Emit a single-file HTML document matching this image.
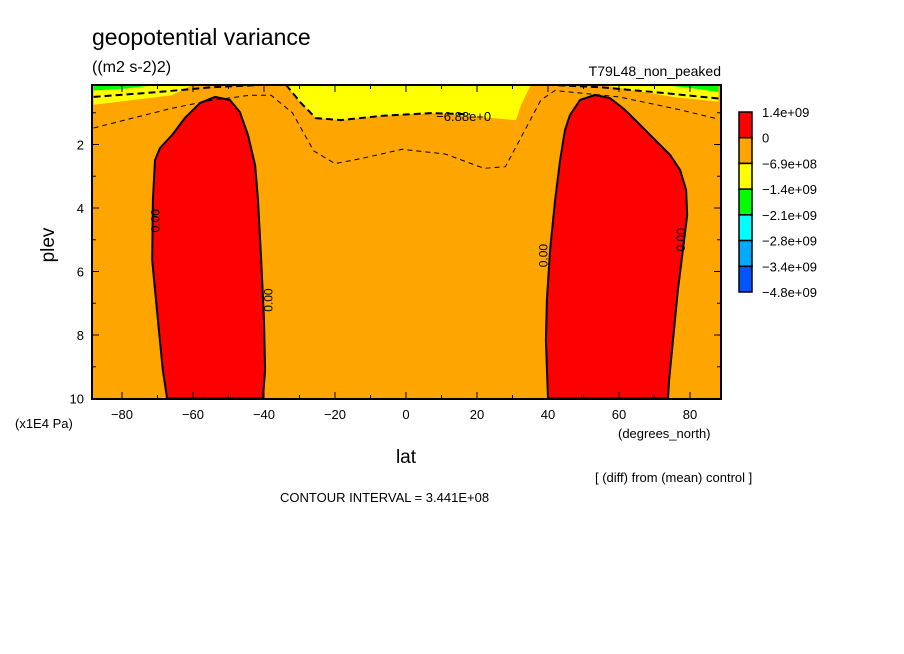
<!DOCTYPE html>
<html><head><meta charset="utf-8"><style>
body{margin:0;background:#fff;}
svg{display:block;font-family:"Liberation Sans",sans-serif;}
</style></head><body>
<svg id="chart" width="904" height="654" viewBox="0 0 904 654">
<g id="plot"></g>
<g id="axes"></g>
<g id="legend"></g>
<text x="92" y="45" font-size="23">geopotential variance</text>
<text x="92" y="72" font-size="16">((m2 s-2)2)</text>
<text x="721" y="76" font-size="14" text-anchor="end">T79L48_non_peaked</text>
<text x="406" y="463" font-size="19" text-anchor="middle">lat</text>
<text x="0" y="0" font-size="19" text-anchor="middle" transform="translate(54,245) rotate(-90)">plev</text>
<text x="15" y="428" font-size="13">(x1E4 Pa)</text>
<text x="618" y="438" font-size="13">(degrees_north)</text>
<text x="595" y="482" font-size="13">[ (diff) from (mean) control ]</text>
<text x="280" y="502" font-size="13">CONTOUR INTERVAL = 3.441E+08</text>
</svg>
<script>
const xTicks=[-80,-60,-40,-20,0,20,40,60,80];
const yTicks=[2,4,6,8,10];
const legendColors=["#ff0000","#ffa500","#ffff00","#00ff00","#00ffff","#00aaff","#0055ff"];
const legendLabels=["1.4e+09","0","-6.9e+08","-1.4e+09","-2.1e+09","-2.8e+09","-3.4e+09","-4.8e+09"];
const redLeft=[[-53.8,0.5],[-49.6,0.6],[-46.8,0.98],[-44.5,1.7],[-42.5,2.65],[-41.7,3.75],[-40.8,5.64],[-40,7.53],[-39.7,9.1],[-40.3,10],[-67.3,10],[-68.5,9.1],[-69.9,7.53],[-71.5,5.64],[-71.3,3.75],[-70.7,2.49],[-69.3,2.11],[-65.9,1.7],[-62.3,1.17],[-58,0.69]];
const redRight=[[53.2,0.44],[57.5,0.54],[61.7,0.91],[66,1.39],[70.2,1.86],[74.4,2.33],[77.2,2.8],[78.9,3.43],[79.2,4.22],[78,5.32],[76.6,6.58],[75.2,8.16],[74.1,9.42],[73.8,10],[40,10],[39.4,8.16],[39.7,6.9],[40.6,5.32],[42,3.75],[43.4,2.49],[44.8,1.54],[46.2,1.07],[49,0.6]];
const yellowCenter=[[-33.8,0.12],[-29.6,0.69],[-25.4,1.17],[-18.3,1.23],[-7.0,1.10],[7.0,1.01],[31.0,1.23],[32.4,0.76],[35.2,0.12]];
const yellowLeft=[[-88,0.12],[-60,0.12],[-66,0.45],[-88,0.75]];
const yellowRight=[[88,0.12],[55,0.12],[75,0.5],[88,0.65]];
const greenLeft=[[-88,0.12],[-70,0.12],[-80,0.25],[-88,0.3]];
const greenRight=[[88,0.12],[72,0.12],[82,0.25],[88,0.35]];
const dashOuter=[[-88,1.48],[-77,1.17],[-66,0.86],[-55,0.61],[-44,0.45],[-38,0.45],[-32,1.0],[-26,2.2],[-20,2.6],[-13,2.45],[-1,2.15],[11,2.3],[22,2.75],[28,2.7],[32,1.86],[38,0.6],[42,0.3],[60,0.5],[77,0.9],[88,1.2]];
const dashYellow=[[-33.8,0.12],[-29.6,0.69],[-25.4,1.17],[-18.3,1.23],[-7.0,1.10],[7.0,1.01],[18,1.05]];
const dashTopL=[[-88,0.5],[-70,0.35],[-55,0.2],[-40,0.12]];
const dashTopR=[[88,0.55],[70,0.35],[55,0.2],[40,0.12]];
const zeroLabels=[[-70.5,4.4],[-38.8,6.9],[38.8,5.5],[77.5,5.0]];

const NS="http://www.w3.org/2000/svg";
const X=lat=>406+lat*3.55;
const Y=p=>81+p*31.75;
const L=92,R=721,T=85,B=399;
const fmt=s=>String(s).replace('-','\u2212');
function mk(tag,attrs,parent){const e=document.createElementNS(NS,tag);for(const k in attrs)e.setAttribute(k,attrs[k]);parent.appendChild(e);return e;}
const plot=document.getElementById('plot'),axes=document.getElementById('axes'),leg=document.getElementById('legend');
const defs=mk('defs',{},plot);
const cp=mk('clipPath',{id:'clip'},defs);mk('rect',{x:L,y:T,width:R-L,height:B-T},cp);
const g=mk('g',{'clip-path':'url(#clip)'},plot);
let bg=mk('rect',{x:L,y:T,width:R-L,height:B-T,fill:'#ffa500'},g);


const pts=a=>a.map(p=>X(p[0]).toFixed(1)+','+Y(p[1]).toFixed(1)).join(' ');
function poly(a,fill,name,stroke){const e=mk('polygon',{points:pts(a),fill:fill,stroke:stroke||'none','stroke-width':2,'stroke-linejoin':'round'},g);

}
poly(yellowCenter,'#ffff00','yellow-region-center');
poly(yellowLeft,'#ffff00','yellow-region-left');
poly(yellowRight,'#ffff00','yellow-region-right');
poly(greenLeft,'#00ff00','green-region-left');
poly(greenRight,'#00ff00','green-region-right');
poly(redLeft,'#ff0000','red-region-left','#000');
poly(redRight,'#ff0000','red-region-right','#000');
function line(a,name,w,dash){const e=mk('polyline',{points:pts(a),fill:'none',stroke:'#000','stroke-width':w,'stroke-dasharray':dash},g);

}
line(dashOuter,'contour-dashed-outer',1,'5,4');
line(dashYellow,'contour-dashed-6.88e8',2,'7,4');
line(dashTopL,'contour-dashed-top-left',2,'7,4');
line(dashTopR,'contour-dashed-top-right',2,'7,4');
let lbl=mk('text',{x:X(8.5),y:Y(1.1)+5,'font-size':13},g);lbl.textContent='\u22126.88e+0';


zeroLabels.forEach(z=>{const t=mk('text',{x:0,y:0,'font-size':12,'text-anchor':'middle',transform:`translate(${X(z[0])+4},${Y(z[1])}) rotate(-90)`},g);t.textContent='0.00';

});
let fr=mk('rect',{x:L,y:T,width:R-L,height:B-T,fill:'none',stroke:'#000','stroke-width':2},axes);


for(let lat=-80;lat<=80;lat+=10){const len=lat%20===0?7:4;
mk('line',{x1:X(lat),x2:X(lat),y1:B,y2:B-len,stroke:'#000'},axes);mk('line',{x1:X(lat),x2:X(lat),y1:T,y2:T+len,stroke:'#000'},axes);}
for(let p=1;p<=10;p++){const len=p%2===0?7:4;
mk('line',{x1:L,x2:L+len,y1:Y(p),y2:Y(p),stroke:'#000'},axes);mk('line',{x1:R,x2:R-len,y1:Y(p),y2:Y(p),stroke:'#000'},axes);}
xTicks.forEach(v=>{const t=mk('text',{x:X(v),y:419,'font-size':13,'text-anchor':'middle'},axes);t.textContent=fmt(v);

});
yTicks.forEach(v=>{const t=mk('text',{x:84,y:Y(v)+5,'font-size':13,'text-anchor':'end'},axes);t.textContent=v;

});
const lh=(292-112)/legendColors.length;
legendColors.forEach((c,i)=>{const r=mk('rect',{x:739,y:112+i*lh,width:13,height:lh,fill:c,stroke:'#000','stroke-width':1.5},leg);

});
legendLabels.forEach((s,i)=>{const t=mk('text',{x:762,y:112+i*lh+5,'font-size':13},leg);t.textContent=fmt(s);

});
</script>
</body></html>
